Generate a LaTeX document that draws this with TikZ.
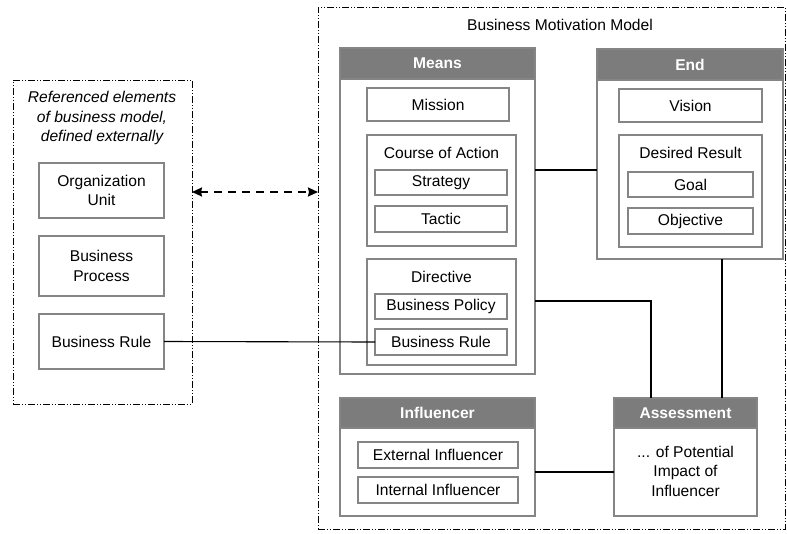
\documentclass[tikz,border=0pt]{standalone}
\usepackage{fontspec}
\setmainfont{Liberation Sans}
\usetikzlibrary{arrows.meta}
\definecolor{bordergray}{HTML}{858585}
\definecolor{headgray}{HTML}{7C7C7C}
\tikzset{
  box/.style={draw=bordergray, line width=1.4pt, fill=white, inner sep=0pt, outer sep=0pt, anchor=north west, align=center, font=\fontsize{15.6}{19.5}\selectfont},
  head/.style={box, fill=headgray, text=white, font=\fontsize{15.6}{18}\selectfont\bfseries},
  txt/.style={inner sep=0pt, align=center, font=\fontsize{15.6}{19.5}\selectfont},
  frame/.style={draw=black, line width=0.9pt, dash pattern=on 7pt off 2pt on 1pt off 2pt on 1pt off 2pt, inner sep=0pt, outer sep=0pt, anchor=north west},
  conn/.style={draw=black, line width=2pt},
  thinconn/.style={draw=black, line width=1.1pt},
}
\begin{document}
\begin{tikzpicture}[x=1pt,y=-1pt]
\useasboundingbox[fill=white] (0,0) rectangle (787,533);
% left frame
\node[frame, minimum width=179pt, minimum height=324pt] (leftouter) at (13,80) {};
\node[txt, font=\fontsize{15.6}{19.5}\selectfont\itshape] (reflabel) at (102,118) {Referenced elements\\of business model,\\defined externally};
\node[box, minimum width=125pt, minimum height=55pt] (orgunit) at (39,163) {Organization\\Unit};
\node[box, minimum width=125pt, minimum height=60pt] (bproc) at (39,236) {Business\\Process};
\node[box, minimum width=125pt, minimum height=55pt] (brule1) at (39,314) {Business Rule};
% right frame
\node[frame, minimum width=467pt, minimum height=522pt] (rightouter) at (318,7) {};
\node[txt] (title) at (560,25) {Business Motivation Model};
% Means
\node[box, minimum width=195pt, minimum height=326pt] (means) at (340,48) {};
\node[head, minimum width=195pt, minimum height=31pt] (meanshead) at (340,48) {Means};
\node[box, minimum width=142pt, minimum height=33pt] (mission) at (367,88) {Mission};
\node[box, minimum width=149pt, minimum height=111pt] (coa) at (367,135) {};
\node[txt] (coalabel) at (441.5,153) {Course of Action};
\node[box, minimum width=132pt, minimum height=25pt] (strategy) at (375,170) {Strategy};
\node[box, minimum width=132pt, minimum height=26pt] (tactic) at (375,206) {Tactic};
\node[box, minimum width=149pt, minimum height=106pt] (directive) at (367,259) {};
\node[txt] (dirlabel) at (441.5,277) {Directive};
\node[box, minimum width=132pt, minimum height=25pt] (bpolicy) at (375,294) {Business Policy};
\node[box, minimum width=132pt, minimum height=26pt] (brule2) at (375,329) {Business Rule};
% End
\node[box, minimum width=186pt, minimum height=210pt] (end) at (597,49) {};
\node[head, minimum width=186pt, minimum height=31pt] (endhead) at (597,49) {End};
\node[box, minimum width=143pt, minimum height=33pt] (vision) at (619,89) {Vision};
\node[box, minimum width=143pt, minimum height=112pt] (desres) at (619,135) {};
\node[txt] (desreslabel) at (690.5,153) {Desired Result};
\node[box, minimum width=125pt, minimum height=25pt] (goal) at (628,172) {Goal};
\node[box, minimum width=125pt, minimum height=26pt] (objective) at (628,208) {Objective};
% Influencer
\node[box, minimum width=195pt, minimum height=118pt] (influencer) at (340,398) {};
\node[head, minimum width=195pt, minimum height=30pt] (inflhead) at (340,398) {Influencer};
\node[box, minimum width=160pt, minimum height=26pt] (extinf) at (358,442) {External Influencer};
\node[box, minimum width=160pt, minimum height=26pt] (intinf) at (358,477) {Internal Influencer};
% Assessment
\node[box, minimum width=143pt, minimum height=118pt] (assess) at (614,398) {};
\node[head, minimum width=143pt, minimum height=30pt] (assesshead) at (614,398) {Assessment};
\node[txt] (assesslabel) at (685.5,471) {... of Potential\\Impact of\\Influencer};
% connectors
\coordinate (da) at (250,192);
\coordinate (c1) at (566,170);
\coordinate (c2) at (651,301);
\coordinate (c3) at (722,330);
\coordinate (c4) at (575,472);
\draw[line width=2pt, dash pattern=on 8pt off 6pt, {Stealth[length=10pt,width=9pt,inset=1pt]}-{Stealth[length=10pt,width=9pt,inset=1pt]}] (leftouter.east |- da) -- (rightouter.west |- da);
\draw[thinconn] (brule1.east) -- (brule2.west);
\draw[conn] (means.east |- c1) -- (end.west |- c1);
\draw[conn] (means.east |- c2) -- (c2) -- (c2 |- assesshead.north);
\draw[conn] (end.south -| c3) -- (assesshead.north -| c3);
\draw[conn] (influencer.east |- c4) -- (assess.west |- c4);
\end{tikzpicture}
\end{document}
